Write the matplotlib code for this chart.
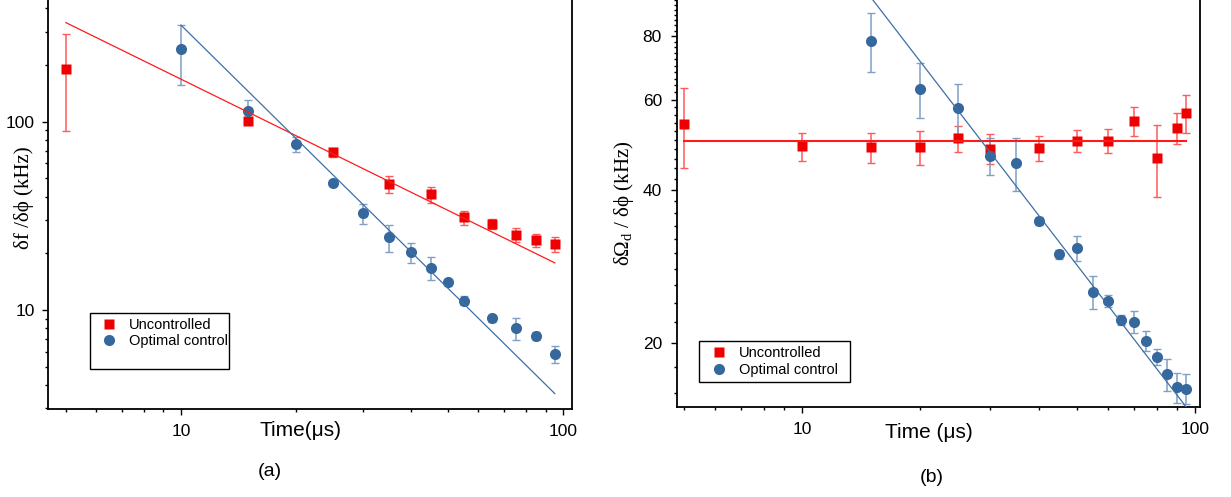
import matplotlib
matplotlib.use("Agg")
import matplotlib.pyplot as plt
from matplotlib.patches import Rectangle
from matplotlib.ticker import LogLocator, MultipleLocator, NullFormatter, FuncFormatter

plt.rcParams['font.family'] = ['Liberation Sans', 'DejaVu Sans']
plt.rcParams['mathtext.fontset'] = 'custom'
plt.rcParams['mathtext.rm'] = 'Liberation Serif'

# ---- panel (a) data ----
a_unc_t = [5, 15, 25, 35, 45, 55, 65, 75, 85, 95]
a_unc_v = [190, 101, 68.7, 46.7, 41.1, 31.0, 28.7, 25.0, 23.5, 22.3]
a_unc_e = [101, 4.0, 3.7, 5.0, 4.0, 2.7, 1.65, 2.15, 1.85, 2.0]

a_opt_t = [10, 15, 20, 25, 30, 35, 40, 45, 50, 55, 65, 75, 85, 95]
a_opt_v = [242, 114, 76.1, 47.4, 32.6, 24.3, 20.3, 16.8, 14.0, 11.2, 9.04, 8.02, 7.28, 5.82]
a_opt_e = [85, 17, 6.8, 1.5, 3.85, 3.9, 2.45, 2.35, 0.6, 0.6, 0.4, 1.05, 0.35, 0.6]

# fitted power-law lines (end points)
a_fit_unc_t = [5, 95]
a_fit_unc_v = [336, 17.8]
a_fit_opt_t = [10, 95]
a_fit_opt_v = [326, 3.6]

# ---- panel (b) data ----
b_unc_t = [5, 10, 15, 20, 25, 30, 40, 50, 60, 70, 80, 90, 95]
b_unc_v = [53.7, 48.6, 48.4, 48.4, 50.4, 48.1, 48.2, 49.8, 49.9, 54.5, 46.1, 52.9, 56.5]
b_unc_e = [9.7, 3.0, 3.35, 3.65, 2.95, 3.25, 2.75, 2.5, 2.7, 3.65, 7.35, 3.65, 4.9]

b_opt_t = [15, 20, 25, 30, 35, 40, 45, 50, 55, 60, 65, 70, 75, 80, 85, 90, 95]
b_opt_v = [78.3, 63.1, 57.9, 46.6, 45.1, 34.7, 29.9, 30.7, 25.2, 24.2, 22.2, 22.0, 20.2, 18.8, 17.4, 16.4, 16.3]
b_opt_e = [10.45, 7.85, 6.5, 3.85, 5.4, 0.6, 0.6, 1.75, 1.9, 0.7, 0.5, 1.1, 0.9, 0.7, 1.25, 1.1, 1.1]

b_fit_unc_t = [5, 95]
b_fit_unc_v = [49.9, 49.9]
b_fit_opt_t = [10, 95]
b_fit_opt_v = [142.5, 15.0]

RED = '#ee0000'
RED_ERR = '#ff5a5a'
BLUE = '#35689c'
BLUE_ERR = '#7f9fc6'

W, H = 1231, 497
fig = plt.figure(figsize=(W / 100, H / 100), dpi=100)


def px_axes(x0, x1, ybot):
    return [x0 / W, 1 - ybot / H, (x1 - x0) / W, ybot / H]


def style_axes(ax):
    ax.set_xscale('log')
    ax.set_yscale('log')
    ax.spines['top'].set_visible(False)
    for s in ('left', 'bottom', 'right'):
        ax.spines[s].set_linewidth(1.3)
    ax.tick_params(which='both', direction='out', right=False, top=False, width=1.0)
    ax.tick_params(which='major', length=4.5, labelsize=12.5)
    ax.tick_params(which='minor', length=2.5)
    ax.tick_params(axis='x', which='major', pad=6)
    ax.xaxis.set_major_locator(LogLocator(base=10))
    ax.xaxis.set_minor_locator(LogLocator(base=10, subs=range(2, 10)))
    ax.xaxis.set_major_formatter(FuncFormatter(lambda v, p: '%g' % v))
    ax.xaxis.set_minor_formatter(NullFormatter())


def draw(ax, ut, uv, ue, ot, ov, oe, fut, fuv, fot, fov, ulw):
    ax.errorbar(ut, uv, yerr=ue, fmt='none', ecolor=RED_ERR, elinewidth=1.1,
                capsize=3, capthick=1.0, zorder=2)
    ax.errorbar(ot, ov, yerr=oe, fmt='none', ecolor=BLUE_ERR, elinewidth=1.1,
                capsize=3, capthick=1.0, zorder=2)
    h1, = ax.plot(ut, uv, 's', color=RED, ms=7.0, mec='none', zorder=3, label='Uncontrolled')
    h2, = ax.plot(ot, ov, 'o', color=BLUE, ms=8.0, mec='none', zorder=3, label='Optimal control')
    ax.plot(fut, fuv, '-', color='#ff1a1a', lw=ulw, zorder=4)
    ax.plot(fot, fov, '-', color='#3d6fa6', lw=0.9, zorder=4)
    return h1, h2


# ---------------- (a) ----------------
ax_a = fig.add_axes(px_axes(48, 571.7, 409))
style_axes(ax_a)
h1, h2 = draw(ax_a, a_unc_t, a_unc_v, a_unc_e, a_opt_t, a_opt_v, a_opt_e,
              a_fit_unc_t, a_fit_unc_v, a_fit_opt_t, a_fit_opt_v, 0.9)
ax_a.set_xlim(4.49, 105.2)
ax_a.set_ylim(2.98, 443)
ax_a.yaxis.set_major_locator(LogLocator(base=10))
ax_a.yaxis.set_minor_locator(LogLocator(base=10, subs=range(2, 10)))
ax_a.yaxis.set_major_formatter(FuncFormatter(lambda v, p: '%g' % v))
ax_a.yaxis.set_minor_formatter(NullFormatter())
ax_a.tick_params(axis='y', which='major', pad=5)

ax_a.legend([h1, h2], ['Uncontrolled', 'Optimal control'], loc='center left',
            bbox_to_anchor=(101.5 / W, 1 - 332.7 / H), bbox_transform=fig.transFigure,
            frameon=False, borderpad=0, borderaxespad=0, handlelength=1.0,
            handletextpad=0.9, labelspacing=0.15, fontsize=10.5)
fig.add_artist(Rectangle((90 / W, 1 - 369 / H), (229 - 90) / W, (369 - 313) / H,
                         transform=fig.transFigure, fill=False, ec='black', lw=1.0))

fig.text(301 / W, 1 - 430 / H, 'Time(μs)', ha='center', va='center', fontsize=15)
fig.text(270 / W, 1 - 472 / H, '(a)', ha='center', va='center', fontsize=14)
fig.text(24 / W, 1 - 198 / H, 'δf /δϕ (kHz)', rotation=90, ha='center', va='center',
         family=['Liberation Serif', 'DejaVu Serif'], fontsize=15)

# ---------------- (b) ----------------
ax_b = fig.add_axes(px_axes(676.5, 1199.5, 407))
style_axes(ax_b)
h1, h2 = draw(ax_b, b_unc_t, b_unc_v, b_unc_e, b_opt_t, b_opt_v, b_opt_e,
              b_fit_unc_t, b_fit_unc_v, b_fit_opt_t, b_fit_opt_v, 1.5)
ax_b.set_xlim(4.79, 102.7)
ax_b.set_ylim(15.0, 94.1)
ax_b.yaxis.set_major_locator(MultipleLocator(20))
ax_b.yaxis.set_minor_locator(MultipleLocator(2))
ax_b.yaxis.set_major_formatter(FuncFormatter(lambda v, p: '%g' % v))
ax_b.yaxis.set_minor_formatter(NullFormatter())
ax_b.tick_params(axis='y', which='major', pad=6)

ax_b.legend([h1, h2], ['Uncontrolled', 'Optimal control'], loc='center left',
            bbox_to_anchor=(711.5 / W, 1 - 361.5 / H), bbox_transform=fig.transFigure,
            frameon=False, borderpad=0, borderaxespad=0, handlelength=1.0,
            handletextpad=0.9, labelspacing=0.25, fontsize=10.5)
fig.add_artist(Rectangle((699 / W, 1 - 382 / H), (850 - 699) / W, (382 - 341) / H,
                         transform=fig.transFigure, fill=False, ec='black', lw=1.0))

fig.text(929 / W, 1 - 432 / H, 'Time (μs)', ha='center', va='center', fontsize=15)
fig.text(932 / W, 1 - 477 / H, '(b)', ha='center', va='center', fontsize=14)
fig.text(624 / W, 1 - 203 / H, 'δΩ$_{\\mathrm{d}}$ / δϕ (kHz)', rotation=90,
         ha='center', va='center', family=['Liberation Serif', 'DejaVu Serif'], fontsize=15)

fig.savefig('out.png', dpi=100)
